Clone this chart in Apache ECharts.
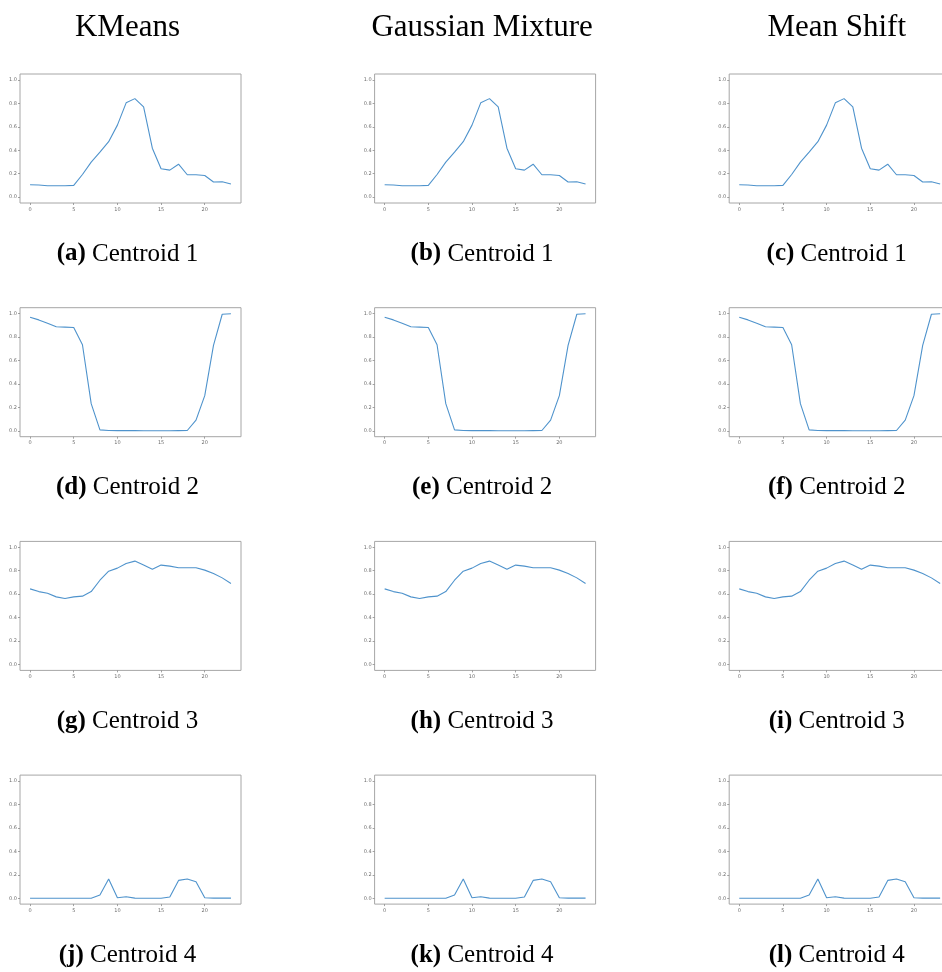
<!DOCTYPE html>
<html>
<head>
<meta charset="utf-8">
<title>Cluster centroids</title>
<script src="https://cdn.jsdelivr.net/npm/echarts@6/dist/echarts.min.js"></script>
<style>
  html, body { margin: 0; padding: 0; background: #ffffff; }
  #chart { width: 942px; height: 972px; }
</style>
</head>
<body>
<div id="chart"></div>
<script>
// Hour of day on the horizontal axis
const hours = [0, 1, 2, 3, 4, 5, 6, 7, 8, 9, 10, 11, 12, 13, 14, 15, 16, 17, 18, 19, 20, 21, 22, 23];
const hourTicks = [0, 5, 10, 15, 20];
const levelTicks = [0.0, 0.2, 0.4, 0.6, 0.8, 1.0];

// Clustering methods (columns) and sub-figure letters
const methods = ['KMeans', 'Gaussian Mixture', 'Mean Shift'];
const letters = ['a', 'b', 'c', 'd', 'e', 'f', 'g', 'h', 'i', 'j', 'k', 'l'];

// Centroid profiles (rows), one value per hour
const centroid1 = [0.106, 0.103, 0.097, 0.097, 0.097, 0.100, 0.193, 0.298, 0.383, 0.473, 0.614, 0.804,
                   0.840, 0.770, 0.417, 0.242, 0.230, 0.281, 0.191, 0.191, 0.185, 0.129, 0.131, 0.112];
const centroid2 = [0.969, 0.946, 0.918, 0.887, 0.884, 0.881, 0.734, 0.232, 0.008, 0.003, 0.002, 0.002,
                   0.002, 0.001, 0.001, 0.001, 0.001, 0.002, 0.003, 0.091, 0.300, 0.728, 0.994, 0.998];
const centroid3 = [0.645, 0.622, 0.608, 0.577, 0.563, 0.577, 0.583, 0.622, 0.719, 0.796, 0.822, 0.862,
                   0.882, 0.848, 0.813, 0.848, 0.839, 0.825, 0.825, 0.825, 0.805, 0.776, 0.739, 0.691];
const centroid4 = [0.000, 0.000, 0.000, 0.000, 0.000, 0.000, 0.000, 0.000, 0.027, 0.164, 0.004, 0.013,
                   0.001, 0.000, 0.000, 0.000, 0.010, 0.152, 0.164, 0.141, 0.004, 0.001, 0.001, 0.001];

const centroids = [centroid1, centroid2, centroid3, centroid4];
// Each method found the same four centroids
const results = {
  'KMeans': centroids,
  'Gaussian Mixture': centroids,
  'Mean Shift': centroids
};

// Panel layout
const colStep = 354.6, rowStep = 233.7;
const panelLeft = 20, panelTop = 74, panelW = 221, panelH = 129;
const lineColor = '#4f93cc';
const frameColor = '#a6a6a6';
const tickColor = '#8c8c8c';
const serif = '"Liberation Serif", "DejaVu Serif", serif';
const captionSize = 25;

const grids = [], xAxes = [], yAxes = [], series = [], graphics = [];

methods.forEach(function (m, c) {
  const cx = panelLeft + colStep * c + panelW / 2 - 3;
  graphics.push({
    type: 'text',
    style: {
      x: cx, y: 27.5, text: m,
      font: '31px ' + serif, fill: '#000',
      align: 'center', verticalAlign: 'middle',
      textAlign: 'center', textVerticalAlign: 'middle'
    }
  });
});

for (let r = 0; r < centroids.length; r++) {
  for (let c = 0; c < methods.length; c++) {
    const idx = grids.length;
    const left = panelLeft + colStep * c;
    const top = panelTop + rowStep * r;
    grids.push({
      left: left, top: top, width: panelW, height: panelH,
      outerBoundsMode: 'none', containLabel: false,
      show: true, borderColor: frameColor, borderWidth: 1, backgroundColor: 'transparent'
    });
    xAxes.push({
      type: 'value', gridIndex: idx, min: -1.15, max: 24.15, position: 'bottom',
      splitLine: { show: false },
      axisLine: { show: false, onZero: false },
      axisTick: { show: true, length: 2, inside: false, customValues: hourTicks,
                  lineStyle: { color: tickColor, width: 0.8 } },
      axisLabel: { show: true, customValues: hourTicks, fontSize: 5, color: '#6e6e6e',
                   fontFamily: 'DejaVu Sans', margin: 4 }
    });
    yAxes.push({
      type: 'value', gridIndex: idx, min: -0.05, max: 1.05, position: 'left',
      splitLine: { show: false },
      axisLine: { show: false, onZero: false },
      axisTick: { show: true, length: 2, inside: false, customValues: levelTicks,
                  lineStyle: { color: tickColor, width: 0.8 } },
      axisLabel: { show: true, customValues: levelTicks, fontSize: 5, color: '#6e6e6e',
                   fontFamily: 'DejaVu Sans', margin: 3,
                   formatter: function (v) { return Number(v).toFixed(1); } }
    });
    const values = results[methods[c]][r];
    series.push({
      type: 'line', xAxisIndex: idx, yAxisIndex: idx,
      data: hours.map(function (h, i) { return [h, values[i]]; }),
      showSymbol: false, symbol: 'none', smooth: false, silent: true,
      lineStyle: { color: lineColor, width: 1.1 },
      animation: false
    });
    graphics.push({
      type: 'text',
      style: {
        x: left + panelW / 2 - 3, y: 254 + rowStep * r,
        text: '{b|(' + letters[idx] + ')} {n|Centroid ' + (r + 1) + '}',
        rich: {
          b: { fontFamily: serif, fontSize: captionSize, fontWeight: 'bold', fill: '#000', color: '#000' },
          n: { fontFamily: serif, fontSize: captionSize, fill: '#000', color: '#000' }
        },
        font: captionSize + 'px ' + serif, fill: '#000',
        align: 'center', verticalAlign: 'middle',
        textAlign: 'center', textVerticalAlign: 'middle'
      }
    });
  }
}

const chart = echarts.init(document.getElementById('chart'), null, { renderer: 'canvas' });
chart.setOption({
  animation: false,
  backgroundColor: '#ffffff',
  grid: grids,
  xAxis: xAxes,
  yAxis: yAxes,
  series: series,
  graphic: graphics
});
</script>
</body>
</html>
